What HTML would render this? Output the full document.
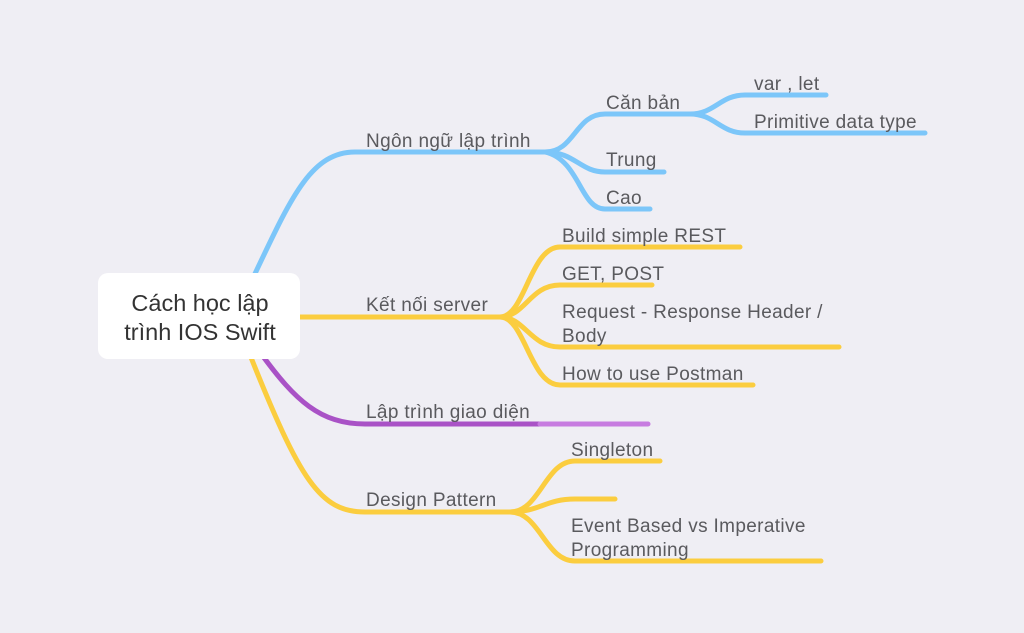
<!DOCTYPE html>
<html><head><meta charset="utf-8"><style>
html,body{margin:0;padding:0;background:#efeef4;}
svg{display:block}
text{font-family:"Liberation Sans",sans-serif;fill:#5a5a5e;font-size:19px;letter-spacing:0.35px}
</style></head><body>
<svg width="1024" height="633" viewBox="0 0 1024 633" xmlns="http://www.w3.org/2000/svg">
<rect width="1024" height="633" fill="#efeef4"/>
<g fill="none" stroke-width="5" stroke-linecap="round">
<g stroke="#7cc6f9">
<path d="M252,280 C290,200 310,152 355,152 H545"/>
<path d="M545,152 C575,152 575,114 605,114 H690"/>
<path d="M690,114 C715,114 720,95 745,95 H826"/>
<path d="M690,114 C715,114 720,133 745,133 H925"/>
<path d="M545,152 C575,152 580,172 605,172 H664"/>
<path d="M545,152 C580,160 580,209 605,209 H650"/>
</g>
<g stroke="#fbcd3f">
<path d="M290,317 H500"/>
<path d="M500,317 C525,317 530,247 560,247 H740"/>
<path d="M500,317 C525,317 530,285 560,285 H652"/>
<path d="M500,317 C525,317 530,347 560,347 H839"/>
<path d="M500,317 C525,317 530,385 560,385 H753"/>
<path d="M250,355 C300,480 320,512 365,512 H510"/>
<path d="M510,512 C540,512 545,461 575,461 H660"/>
<path d="M510,512 C540,512 545,499 575,499 H615"/>
<path d="M510,512 C540,512 545,561 575,561 H821"/>
</g>
<path stroke="#a952c6" d="M262,355 C295,400 320,424 365,424 H540"/>
<path stroke="#c77ce0" d="M540,424 H648"/>
</g>
<rect x="98" y="273" width="202" height="86" rx="10" fill="#fff"/>
<text x="200" y="311" text-anchor="middle" style="font-size:23.5px;fill:#333;letter-spacing:0">Cách học lập</text>
<text x="200" y="340" text-anchor="middle" style="font-size:23.5px;fill:#333;letter-spacing:0">trình IOS Swift</text>
<text x="366" y="147">Ngôn ngữ lập trình</text>
<text x="606" y="109">Căn bản</text>
<text x="754" y="90">var , let</text>
<text x="754" y="128">Primitive data type</text>
<text x="606" y="166">Trung</text>
<text x="606" y="204">Cao</text>
<text x="366" y="311">Kết nối server</text>
<text x="562" y="242">Build simple REST</text>
<text x="562" y="280">GET, POST</text>
<text x="562" y="318">Request - Response Header /</text>
<text x="562" y="342">Body</text>
<text x="562" y="380">How to use Postman</text>
<text x="366" y="418">Lập trình giao diện</text>
<text x="366" y="506">Design Pattern</text>
<text x="571" y="456">Singleton</text>
<text x="571" y="532">Event Based vs Imperative</text>
<text x="571" y="556">Programming</text>
</svg>
</body></html>
